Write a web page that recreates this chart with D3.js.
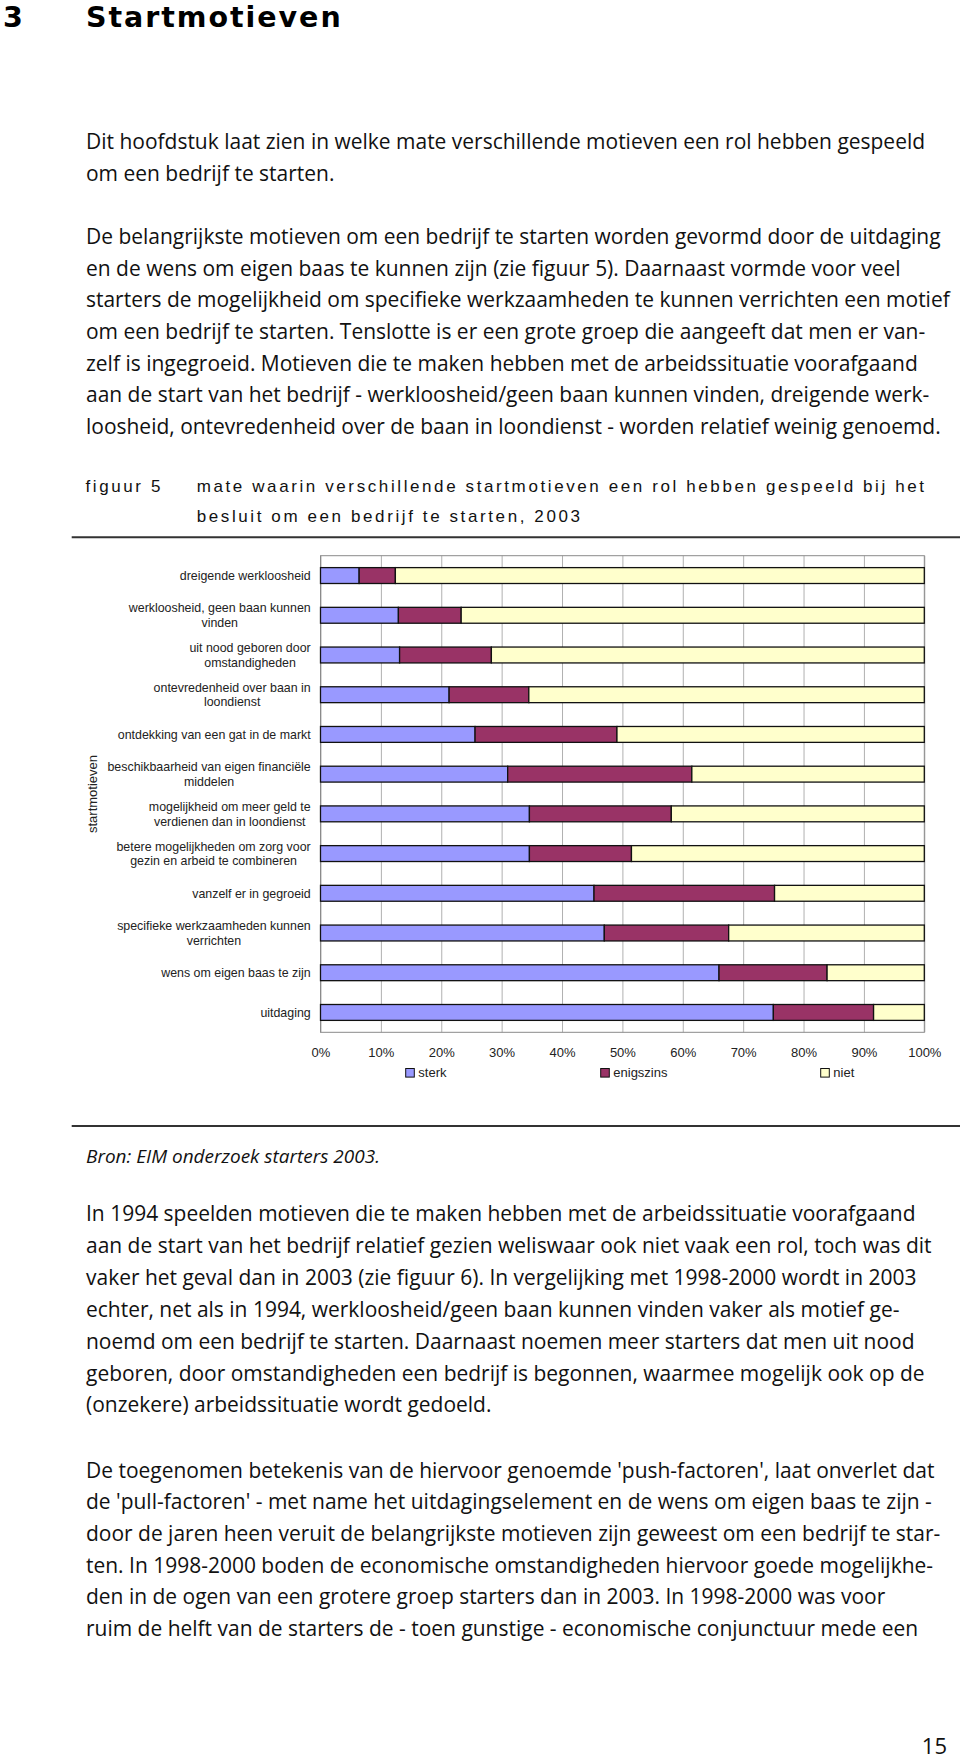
<!DOCTYPE html>
<html><head><meta charset="utf-8">
<script src="https://cdn.jsdelivr.net/npm/d3@7/dist/d3.min.js"></script>
<style>html,body{margin:0;padding:0;background:#fff;} svg{display:block;}</style>
</head><body>
<svg id="page" width="960" height="1760"></svg>
<script>
// ---------- DATA ----------
const categories = [
  "dreigende werkloosheid",
  "werkloosheid, geen baan kunnen vinden",
  "uit nood geboren door omstandigheden",
  "ontevredenheid over baan in loondienst",
  "ontdekking van een gat in de markt",
  "beschikbaarheid van eigen financiële middelen",
  "mogelijkheid om meer geld te verdienen dan in loondienst",
  "betere mogelijkheden om zorg voor gezin en arbeid te combineren",
  "vanzelf er in gegroeid",
  "specifieke werkzaamheden kunnen verrichten",
  "wens om eigen baas te zijn",
  "uitdaging"
];
const categoryLines = [
  ["dreigende werkloosheid"],
  ["werkloosheid, geen baan kunnen", "vinden"],
  ["uit nood geboren door", "omstandigheden"],
  ["ontevredenheid over baan in", "loondienst"],
  ["ontdekking van een gat in de markt"],
  ["beschikbaarheid van eigen financiële", "middelen"],
  ["mogelijkheid om meer geld te", "verdienen dan in loondienst"],
  ["betere mogelijkheden om zorg voor", "gezin en arbeid te combineren"],
  ["vanzelf er in gegroeid"],
  ["specifieke werkzaamheden kunnen", "verrichten"],
  ["wens om eigen baas te zijn"],
  ["uitdaging"]
];
const seriesNames = ["sterk", "enigszins", "niet"];
const sterk     = [6.4, 12.9, 13.1, 21.3, 25.6, 31.0, 34.6, 34.6, 45.3, 47.0, 66.0, 75.0];
const enigszins = [6.0, 10.4, 15.2, 13.2, 23.5, 30.5, 23.5, 16.9, 29.9, 20.6, 17.9, 16.6];
const niet      = [87.6, 76.7, 71.7, 65.5, 50.9, 38.5, 41.9, 48.5, 24.8, 32.4, 16.1, 8.4];
const xTicks = [0, 10, 20, 30, 40, 50, 60, 70, 80, 90, 100];
const xTickLabels = ["0%", "10%", "20%", "30%", "40%", "50%", "60%", "70%", "80%", "90%", "100%"];
const yAxisTitle = "startmotieven";
const chapterNumber = "3";
const chapterTitle = "Startmotieven";
const figureLabel = "figuur 5";
const figureTitle = ["mate waarin verschillende startmotieven een rol hebben gespeeld bij het",
                     "besluit om een bedrijf te starten, 2003"];
const sourceNote = "Bron: EIM onderzoek starters 2003.";
const pageNumber = "15";
const para1 = [
  "Dit hoofdstuk laat zien in welke mate verschillende motieven een rol hebben gespeeld",
  "om een bedrijf te starten."
];
const para2 = [
  "De belangrijkste motieven om een bedrijf te starten worden gevormd door de uitdaging",
  "en de wens om eigen baas te kunnen zijn (zie figuur 5). Daarnaast vormde voor veel",
  "starters de mogelijkheid om specifieke werkzaamheden te kunnen verrichten een motief",
  "om een bedrijf te starten. Tenslotte is er een grote groep die aangeeft dat men er van-",
  "zelf is ingegroeid. Motieven die te maken hebben met de arbeidssituatie voorafgaand",
  "aan de start van het bedrijf - werkloosheid/geen baan kunnen vinden, dreigende werk-",
  "loosheid, ontevredenheid over de baan in loondienst - worden relatief weinig genoemd."
];
const para3 = [
  "In 1994 speelden motieven die te maken hebben met de arbeidssituatie voorafgaand",
  "aan de start van het bedrijf relatief gezien weliswaar ook niet vaak een rol, toch was dit",
  "vaker het geval dan in 2003 (zie figuur 6). In vergelijking met 1998-2000 wordt in 2003",
  "echter, net als in 1994, werkloosheid/geen baan kunnen vinden vaker als motief ge-",
  "noemd om een bedrijf te starten. Daarnaast noemen meer starters dat men uit nood",
  "geboren, door omstandigheden een bedrijf is begonnen, waarmee mogelijk ook op de",
  "(onzekere) arbeidssituatie wordt gedoeld."
];
const para4 = [
  "De toegenomen betekenis van de hiervoor genoemde 'push-factoren', laat onverlet dat",
  "de 'pull-factoren' - met name het uitdagingselement en de wens om eigen baas te zijn -",
  "door de jaren heen veruit de belangrijkste motieven zijn geweest om een bedrijf te star-",
  "ten. In 1998-2000 boden de economische omstandigheden hiervoor goede mogelijkhe-",
  "den in de ogen van een grotere groep starters dan in 2003. In 1998-2000 was voor",
  "ruim de helft van de starters de - toen gunstige - economische conjunctuur mede een"
];

// ---------- LAYOUT ----------
const svg = d3.select("#page");
svg.append("rect").attr("width", 960).attr("height", 1760).attr("fill", "#fff");
const bodyFont = "'Open Sans', 'Noto Sans', sans-serif";
const titleFont = "'DejaVu Sans', sans-serif";
const capFont = "'Liberation Sans', Arial, sans-serif";
const chartFont = "'Liberation Sans', Arial, sans-serif";

function measure(txt, font, size, weight, style, ls) {
  const t = svg.append("text").attr("font-family", font).attr("font-size", size)
    .attr("font-weight", weight || "normal").attr("font-style", style || "normal")
    .attr("letter-spacing", ls || 0).text(txt);
  const w = t.node().getComputedTextLength();
  t.remove();
  return w;
}

// body font size fitted to reference line width
const refW = measure(para2[0], bodyFont, 20);
const bodySize = 20 * 855 / refW;

function drawPara(lines, x, y0, step) {
  svg.append("g").selectAll("text").data(lines).join("text")
    .attr("x", x).attr("y", (d, i) => y0 + i * step)
    .attr("font-family", bodyFont).attr("font-size", bodySize)
    .attr("fill", "#111").text(d => d);
}

// title
const titleSize = 28.5;
svg.append("text").attr("x", 3).attr("y", 27).attr("font-family", titleFont)
  .attr("font-size", titleSize).attr("font-weight", "bold").attr("fill", "#000").text(chapterNumber);
const titleW = measure(chapterTitle, titleFont, titleSize, "bold");
const titleLs = (254.7 - titleW) / (chapterTitle.length - 1);
svg.append("text").attr("x", 86).attr("y", 27).attr("font-family", titleFont)
  .attr("font-size", titleSize).attr("font-weight", "bold").attr("letter-spacing", titleLs)
  .attr("fill", "#000").text(chapterTitle);

drawPara(para1, 86, 149.3, 31.6);
drawPara(para2, 86, 244.1, 31.6);
drawPara(para3, 86, 1221.3, 31.85);
drawPara(para4, 86, 1477.5, 31.7);

// caption
const capSize = 17;
const capW = measure(figureTitle[0], capFont, capSize);
const capLs = (727.3 - capW) / (figureTitle[0].length - 1);
svg.append("text").attr("x", 85.5).attr("y", 491.7).attr("font-family", capFont)
  .attr("font-size", capSize).attr("letter-spacing", capLs).attr("fill", "#111").text(figureLabel);
svg.append("g").selectAll("text").data(figureTitle).join("text")
  .attr("x", 196.7).attr("y", (d, i) => 491.7 + i * 30)
  .attr("font-family", capFont).attr("font-size", capSize).attr("letter-spacing", capLs)
  .attr("fill", "#111").text(d => d);

// rules
[537.3, 1126].forEach(yy => svg.append("line").attr("x1", 71.7).attr("x2", 960)
  .attr("y1", yy).attr("y2", yy).attr("stroke", "#333").attr("stroke-width", 2));

// source
const srcW = measure(sourceNote, bodyFont, 16, "normal", "italic");
svg.append("text").attr("x", 86).attr("y", 1163.3).attr("font-family", bodyFont)
  .attr("font-size", 16 * 294 / srcW).attr("font-style", "italic").attr("fill", "#111").text(sourceNote);

// page number
svg.append("text").attr("x", 947).attr("y", 1754).attr("text-anchor", "end")
  .attr("font-family", bodyFont).attr("font-size", bodySize * 1.05).attr("fill", "#111").text(pageNumber);

// ---------- CHART ----------
const plot = {left: 320.5, right: 924.3, top: 555.7, bottom: 1032.3};
const x = d3.scaleLinear().domain([0, 100]).range([plot.left, plot.right]);
const y = d3.scaleBand().domain(categories).range([plot.top, plot.bottom])
  .paddingInner(0.6).paddingOuter(0.3);
const color = d3.scaleOrdinal().domain(seriesNames).range(["#9999FF", "#993366", "#FFFFCC"]);

// gridlines
const grid = svg.append("g").attr("transform", `translate(0,${plot.bottom})`)
  .call(d3.axisBottom(x).tickValues(xTicks).tickSize(-(plot.bottom - plot.top)).tickFormat(""));
grid.select(".domain").remove();
grid.selectAll("line").attr("stroke", "#b0b0b0").attr("stroke-width", 1);

svg.append("rect").attr("x", plot.left).attr("y", plot.top)
  .attr("width", plot.right - plot.left).attr("height", plot.bottom - plot.top)
  .attr("fill", "none").attr("stroke", "#8a8a8a").attr("stroke-width", 1);

// stacked bars
const table = categories.map((c, i) => ({cat: c, sterk: sterk[i], enigszins: enigszins[i], niet: niet[i]}));
const stacked = d3.stack().keys(seriesNames)(table);
svg.append("g").selectAll("g").data(stacked).join("g")
  .attr("fill", d => color(d.key))
  .selectAll("rect").data(d => d).join("rect")
  .attr("x", d => x(d[0])).attr("width", d => x(d[1]) - x(d[0]))
  .attr("y", d => y(d.data.cat)).attr("height", y.bandwidth())
  .attr("stroke", "#111").attr("stroke-width", 1.3);

// x tick labels
const xa = svg.append("g").attr("transform", `translate(0,${plot.bottom})`)
  .call(d3.axisBottom(x).tickValues(xTicks).tickSize(0)
    .tickFormat((d, i) => xTickLabels[i]));
xa.select(".domain").remove();
xa.selectAll("text").attr("y", 24.4).attr("dy", null)
  .attr("font-family", chartFont).attr("font-size", 13).attr("fill", "#222");

// y labels
const labelSize = 12.4;
const ylab = svg.append("g");
categories.forEach((c, i) => {
  const lines = categoryLines[i];
  const maxW = d3.max(lines, l => measure(l, chartFont, labelSize));
  const cx = 310.7 - maxW / 2;
  const cy = y(c) + y.bandwidth() / 2;
  const base = lines.length === 1 ? [cy + 4.6] : [cy - 3, cy + 11.7];
  lines.forEach((l, j) => {
    ylab.append("text").attr("x", cx).attr("y", base[j]).attr("text-anchor", "middle")
      .attr("font-family", chartFont).attr("font-size", labelSize).attr("fill", "#222").text(l);
  });
});

// y axis title
svg.append("text").attr("transform", `translate(97.3,${(plot.top + plot.bottom) / 2}) rotate(-90)`)
  .attr("text-anchor", "middle").attr("font-family", chartFont).attr("font-size", 13)
  .attr("fill", "#222").text(yAxisTitle);

// legend
const legendX = [405.7, 600.7, 820.7];
const leg = svg.append("g").selectAll("g").data(seriesNames).join("g")
  .attr("transform", (d, i) => `translate(${legendX[i]},1068.5)`);
leg.append("rect").attr("width", 8.6).attr("height", 8.6).attr("fill", d => color(d))
  .attr("stroke", "#111").attr("stroke-width", 1);
leg.append("text").attr("x", 12.6).attr("y", 8.8).attr("font-family", chartFont)
  .attr("font-size", 13).attr("fill", "#222").text(d => d);
</script>
</body></html>
